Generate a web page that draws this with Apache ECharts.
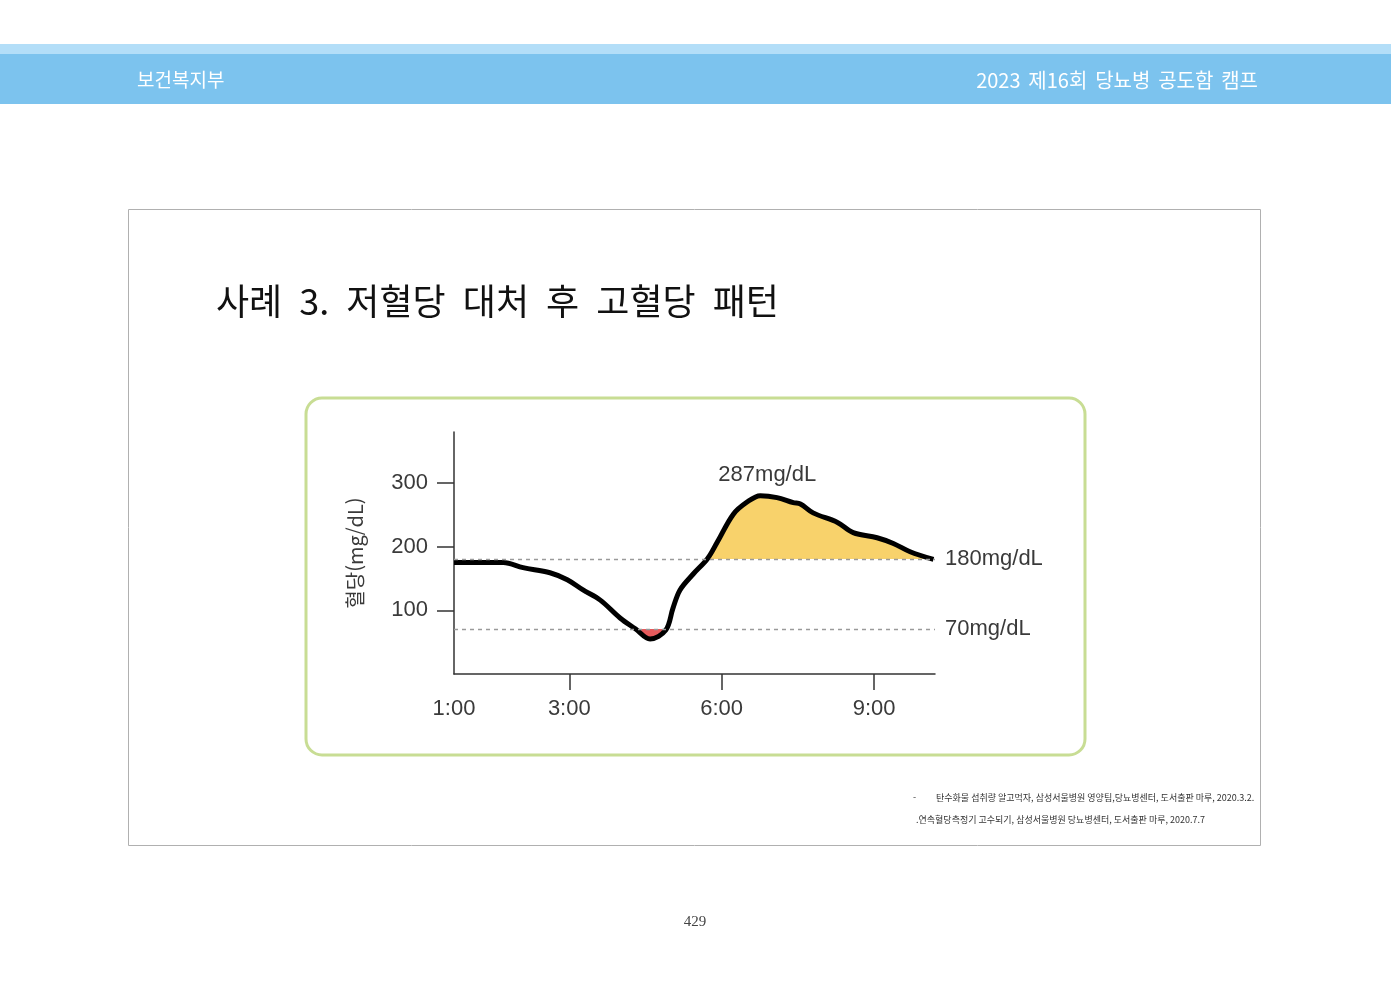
<!DOCTYPE html>
<html lang="ko">
<head>
<meta charset="UTF-8">
<title>사례 3. 저혈당 대처 후 고혈당 패턴</title>
<script src="https://cdn.jsdelivr.net/npm/echarts@6/dist/echarts.min.js"></script>
<style>
    body{
        margin: 0;
        background-color: #ffffff;
    }
    #chart{
        width: 1400px;
        height: 990px;
    }
</style>
</head>
<body>
<div id="chart"></div>
<script>
    // time in hours, blood sugar in mg/dL
    var hours   = [0.73, 1.70, 2.09, 2.62, 2.96, 3.27, 3.61, 4.00, 4.30, 4.59, 4.90, 5.04, 5.18, 5.44, 5.72, 5.92, 6.23, 6.50, 6.76, 7.09, 7.41, 7.55, 7.80, 8.28, 8.59, 9.06, 9.38, 9.71, 10.17];
    var glucose = [175, 175, 167, 159, 148, 132, 116, 88, 71, 55, 69, 103, 132, 157, 181, 208, 251, 270, 280, 277, 269, 267, 253, 238, 222, 214, 205, 192, 180];
    var xTickHours = [3, 6, 9];
    var yTickValues = [100, 200, 300];
    var targetLines = [180, 70];
    var peakText = '287mg/dL';
    var yName = '혈당(mg/dL)';

    var points = [];
    for (var i = 0; i < hours.length; i++) {
        points.push([hours[i], glucose[i]]);
    }
    var xMin = hours[0];
    var xLabelHours = [xMin].concat(xTickHours);

    var numFont = 'Liberation Sans';
    var krFont = 'Noto Sans CJK KR';
    var axisColor = '#333333';

    var chart = echarts.init(document.getElementById('chart'));

    var option = {
        backgroundColor: '#ffffff',
        animation: false,
        graphic: [
            // header band
            {type: 'rect', shape: {x: 0, y: 44, width: 1391, height: 10}, style: {fill: '#b3def8'}},
            {type: 'rect', shape: {x: 0, y: 54, width: 1391, height: 50}, style: {fill: '#7cc3ee'}},
            {type: 'text', x: 137, y: 80, style: {text: '보건복지부', fill: '#ffffff', font: '19px "Noto Sans CJK KR"', textVerticalAlign: 'middle'}},
            {type: 'text', x: 1258, y: 80, style: {text: ['2023', '제16회', '당뇨병', '공도함', '캠프'].join(' \u2006'), fill: '#ffffff', font: '20px "Noto Sans CJK KR"', textAlign: 'right', textVerticalAlign: 'middle'}},
            // slide border
            {type: 'rect', shape: {x: 128.5, y: 209.5, width: 1132, height: 636}, style: {fill: 'none', stroke: '#b0b0b0', lineWidth: 1}},
            {type: 'text', x: 216, y: 301, style: {text: ['사례', '3.', '저혈당', '대처', '후', '고혈당', '패턴'].join('\u2005 '), fill: '#111111', font: '36px "Noto Sans CJK KR"', textVerticalAlign: 'middle'}},
            // green frame round the graph
            {type: 'rect', z: -1, shape: {x: 306, y: 398, width: 779, height: 357, r: 16}, style: {fill: 'none', stroke: '#c8dd94', lineWidth: 3}},
            // sources
            {type: 'text', x: 913, y: 798, style: {text: '-', fill: '#333', font: '9px "Noto Sans CJK KR"', textVerticalAlign: 'middle'}},
            {type: 'text', x: 936, y: 798, style: {text: '탄수화물 섭취량 알고먹자, 삼성서울병원 영양팀,당뇨병센터, 도서출판 마루, 2020.3.2.', fill: '#333', font: '9px "Noto Sans CJK KR"', textVerticalAlign: 'middle'}},
            {type: 'text', x: 916, y: 820, style: {text: '.연속혈당측정기 고수되기, 삼성서울병원 당뇨병센터, 도서출판 마루, 2020.7.7', fill: '#333', font: '9px "Noto Sans CJK KR"', textVerticalAlign: 'middle'}},
            {type: 'text', x: 695, y: 922, style: {text: '429', fill: '#444', font: '15px "Liberation Serif"', textAlign: 'center', textVerticalAlign: 'middle'}}
        ],
        grid: {left: 454, right: 465, top: 432, bottom: 316},
        xAxis: {
            type: 'value',
            min: xMin,
            max: 10.2,
            splitLine: {show: false},
            axisLine: {lineStyle: {color: axisColor, width: 1.5}},
            axisTick: {show: true, customValues: xTickHours, length: 16, lineStyle: {color: axisColor, width: 1.5}},
            axisLabel: {
                customValues: xLabelHours,
                margin: 24,
                fontSize: 22,
                fontFamily: numFont,
                color: '#3a3a3a',
                formatter: function (v) { return Math.round(v) + ':00'; }
            }
        },
        yAxis: {
            type: 'value',
            min: 0,
            max: 380,
            name: yName,
            nameLocation: 'middle',
            nameGap: 89,
            nameRotate: 90,
            nameTextStyle: {fontSize: 20, fontFamily: krFont, color: '#3a3a3a'},
            splitLine: {show: false},
            axisLine: {show: true, lineStyle: {color: axisColor, width: 1.5}},
            axisTick: {show: true, customValues: yTickValues, length: 17, lineStyle: {color: axisColor, width: 1.5}},
            axisLabel: {customValues: yTickValues, margin: 26, fontSize: 22, fontFamily: numFont, color: '#3a3a3a'}
        },
        visualMap: {
            type: 'piecewise',
            show: false,
            seriesIndex: 0,
            dimension: 1,
            pieces: [
                {lt: targetLines[1], color: '#e65a5c'},
                {gte: targetLines[1], lte: targetLines[0], color: 'rgba(255,255,255,0)'},
                {gt: targetLines[0], color: '#f8d26b'}
            ]
        },
        series: [
            {
                // fill between the curve and the 180 line, coloured by value
                type: 'line',
                data: points,
                smooth: 0.35,
                symbol: 'none',
                silent: true,
                z: 1,
                lineStyle: {width: 0},
                areaStyle: {origin: targetLines[0], opacity: 1}
            },
            {
                type: 'line',
                data: points,
                smooth: 0.35,
                symbol: 'none',
                z: 3,
                lineStyle: {color: '#000000', width: 5},
                markLine: {
                    silent: true,
                    symbol: 'none',
                    lineStyle: {color: '#9a9a9a', width: 1.3, type: [4, 4]},
                    label: {
                        position: 'end',
                        distance: 10,
                        fontSize: 22,
                        fontFamily: numFont,
                        color: '#3a3a3a',
                        formatter: '{c}mg/dL'
                    },
                    data: targetLines.map(function (v) { return {yAxis: v}; })
                },
                markPoint: {
                    symbol: 'circle',
                    symbolSize: 2,
                    itemStyle: {color: 'rgba(0,0,0,0)'},
                    label: {
                        show: true,
                        position: 'top',
                        distance: 9,
                        offset: [7, 0],
                        fontSize: 22,
                        fontFamily: numFont,
                        color: '#3a3a3a',
                        formatter: peakText
                    },
                    data: [{type: 'max'}]
                }
            }
        ]
    };

    chart.setOption(option);
</script>
</body>
</html>
